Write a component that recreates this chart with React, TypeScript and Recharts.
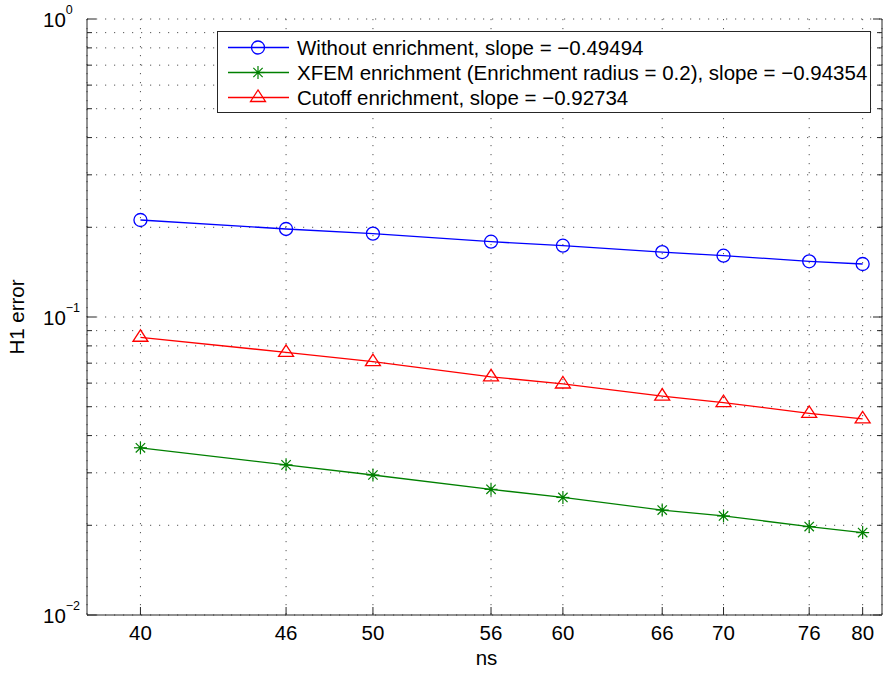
import React from 'react';
import { LineChart, Line, XAxis, YAxis, CartesianGrid, Legend } from 'recharts';

const ns = [40, 46, 50, 56, 60, 66, 70, 76, 80];
const withoutEnrichment = [0.2116, 0.1974, 0.1904, 0.1789, 0.1735, 0.1652, 0.1606, 0.1538, 0.1506];
const xfemEnrichment = [0.0364, 0.0319, 0.0295, 0.0264, 0.0248, 0.0225, 0.0215, 0.0198, 0.0189];
const cutoffEnrichment = [0.0855, 0.0761, 0.0708, 0.063, 0.0596, 0.0543, 0.0516, 0.0475, 0.0455];

const xTicks = [40, 46, 50, 56, 60, 66, 70, 76, 80];
const yTicks = [
  0.01, 0.02, 0.03, 0.04, 0.05, 0.06, 0.07, 0.08, 0.09,
  0.1, 0.2, 0.3, 0.4, 0.5, 0.6, 0.7, 0.8, 0.9, 1,
];
const yMajor = [0.01, 0.1, 1];
const yMajorLabels = ['\u22122', '\u22121', '0'];

const seriesNames = [
  'Without enrichment, slope = \u22120.49494',
  'XFEM enrichment (Enrichment radius = 0.2), slope = \u22120.94354',
  'Cutoff enrichment, slope = \u22120.92734',
];

const data = ns.map((n, i) => ({
  ns: n,
  without: withoutEnrichment[i],
  xfem: xfemEnrichment[i],
  cutoff: cutoffEnrichment[i],
}));

const FONT = '"Liberation Sans", Arial, Helvetica, sans-serif';
const FS = 20.5;
const AXIS = '#262626';
const BLUE = '#0000ff';
const GREEN = '#008000';
const RED = '#ff0000';

const Circle = ({ cx, cy }: any) => (
  <circle cx={cx} cy={cy} r={6.5} fill="none" stroke={BLUE} strokeWidth={1.3} />
);

const Star = ({ cx, cy }: any) => {
  const r = 6.5;
  const d = r * 0.72;
  return (
    <g stroke={GREEN} strokeWidth={1.2}>
      <line x1={cx} x2={cx} y1={cy - r} y2={cy + r} />
      <line x1={cx - r} x2={cx + r} y1={cy} y2={cy} />
      <line x1={cx - d} x2={cx + d} y1={cy - d} y2={cy + d} />
      <line x1={cx - d} x2={cx + d} y1={cy + d} y2={cy - d} />
      <circle cx={cx} cy={cy} r={1.8} fill={GREEN} stroke="none" />
    </g>
  );
};

const Triangle = ({ cx, cy }: any) => (
  <polygon
    points={`${cx},${cy - 7.5} ${cx - 7.5},${cy + 4} ${cx + 7.5},${cy + 4}`}
    fill="none"
    stroke={RED}
    strokeWidth={1.3}
  />
);

const markers = [Circle, Star, Triangle];
const colors = [BLUE, GREEN, RED];

// ticks point inward, like matlab
const BottomTick = ({ x, y, payload }: any) => (
  <g>
    <line x1={x} x2={x} y1={y} y2={y - 8} stroke={AXIS} />
    <text x={x} y={y + 25} textAnchor="middle" fontSize={FS} fontFamily={FONT} fill="#000">
      {payload.value}
    </text>
  </g>
);

const TopTick = ({ x, y }: any) => <line x1={x} x2={x} y1={y} y2={y + 8} stroke={AXIS} />;

const LeftTick = ({ x, y, payload }: any) => {
  const k = yMajor.indexOf(payload.value);
  const len = k >= 0 ? 9 : 5;
  return (
    <g>
      <line x1={x} x2={x + len} y1={y} y2={y} stroke={AXIS} />
      {k >= 0 && (
        <text x={x - 44} y={y + 8} fontSize={FS} fontFamily={FONT} fill="#000">
          10
          <tspan dy={-13} fontSize={12.5}>
            {yMajorLabels[k]}
          </tspan>
        </text>
      )}
    </g>
  );
};

const RightTick = ({ x, y, payload }: any) => {
  const len = yMajor.indexOf(payload.value) >= 0 ? 9 : 5;
  return <line x1={x} x2={x - len} y1={y} y2={y} stroke={AXIS} />;
};

const LegendBox = () => (
  <div
    style={{
      width: 654,
      height: 82,
      border: `1px solid ${AXIS}`,
      background: '#fff',
      boxSizing: 'border-box',
      position: 'relative',
      fontFamily: FONT,
      fontSize: FS,
      color: '#000',
    }}
  >
    {seriesNames.map((name, i) => {
      const M = markers[i];
      return (
        <div
          key={name}
          style={{
            position: 'absolute',
            left: 0,
            top: 2.5 + i * 25.3,
            height: 25,
            display: 'flex',
            alignItems: 'center',
            whiteSpace: 'nowrap',
          }}
        >
          <svg width={79} height={25} style={{ display: 'block' }}>
            <line x1={10} x2={71} y1={12.5} y2={12.5} stroke={colors[i]} strokeWidth={1.3} />
            <M cx={40} cy={12.5} />
          </svg>
          <span style={{ lineHeight: '25px' }}>{name}</span>
        </div>
      );
    })}
  </div>
);

export default function App() {
  return (
    <div style={{ position: 'absolute', left: 0, top: 0, background: '#fff' }}>
      <LineChart
        width={884}
        height={673}
        data={data}
        margin={{ top: 19, right: 0, left: 0, bottom: 0 }}
        style={{ fontFamily: FONT }}
      >
        <CartesianGrid
          xAxisId="b"
          yAxisId="l"
          stroke="#555"
          strokeWidth={1}
          strokeDasharray="1.2 7.8"
        />
        <XAxis
          xAxisId="b"
          dataKey="ns"
          type="number"
          scale="log"
          domain={[38, 81.5]}
          ticks={xTicks}
          interval={0}
          allowDataOverflow
          height={58}
          tickSize={0}
          tickMargin={0}
          tickLine={false}
          tick={<BottomTick />}
          axisLine={{ stroke: AXIS }}
          label={{
            content: ({ viewBox }: any) => (
              <text
                x={viewBox.x + viewBox.width / 2 + 2}
                y={viewBox.y + 50}
                textAnchor="middle"
                fontSize={FS}
                fontFamily={FONT}
                fill="#000"
              >
                ns
              </text>
            ),
          }}
        />
        <XAxis
          xAxisId="t"
          orientation="top"
          dataKey="ns"
          type="number"
          scale="log"
          domain={[38, 81.5]}
          ticks={xTicks}
          interval={0}
          allowDataOverflow
          height={0}
          tickSize={0}
          tickMargin={0}
          tickLine={false}
          tick={<TopTick />}
          axisLine={{ stroke: AXIS }}
        />
        <YAxis
          yAxisId="l"
          type="number"
          scale="log"
          domain={[0.01, 1]}
          ticks={yTicks}
          interval={0}
          allowDataOverflow
          width={87}
          tickSize={0}
          tickMargin={0}
          tickLine={false}
          tick={<LeftTick />}
          axisLine={{ stroke: AXIS }}
          label={{
            content: ({ viewBox }: any) => {
              const cx = viewBox.x + 24;
              const cy = viewBox.y + viewBox.height / 2;
              return (
                <text
                  x={cx}
                  y={cy}
                  transform={`rotate(-90 ${cx} ${cy})`}
                  textAnchor="middle"
                  fontSize={FS}
                  fontFamily={FONT}
                  fill="#000"
                >
                  H1 error
                </text>
              );
            },
          }}
        />
        <YAxis
          yAxisId="r"
          orientation="right"
          type="number"
          scale="log"
          domain={[0.01, 1]}
          ticks={yTicks}
          interval={0}
          allowDataOverflow
          width={2}
          tickSize={0}
          tickMargin={0}
          tickLine={false}
          tick={<RightTick />}
          axisLine={{ stroke: AXIS }}
        />
        <Legend
          layout="horizontal"
          verticalAlign="middle"
          align="center"
          content={() => <LegendBox />}
          wrapperStyle={{ position: 'absolute', left: 217, top: 31, width: 654, height: 82 }}
        />
        <Line
          xAxisId="b"
          yAxisId="l"
          dataKey="without"
          stroke={BLUE}
          strokeWidth={1.3}
          dot={(p: any) => <Circle key={`c${p.index}`} cx={p.cx} cy={p.cy} />}
          activeDot={false}
          isAnimationActive={false}
        />
        <Line
          xAxisId="b"
          yAxisId="l"
          dataKey="xfem"
          stroke={GREEN}
          strokeWidth={1.3}
          dot={(p: any) => <Star key={`s${p.index}`} cx={p.cx} cy={p.cy} />}
          activeDot={false}
          isAnimationActive={false}
        />
        <Line
          xAxisId="b"
          yAxisId="l"
          dataKey="cutoff"
          stroke={RED}
          strokeWidth={1.3}
          dot={(p: any) => <Triangle key={`t${p.index}`} cx={p.cx} cy={p.cy} />}
          activeDot={false}
          isAnimationActive={false}
        />
      </LineChart>
    </div>
  );
}
